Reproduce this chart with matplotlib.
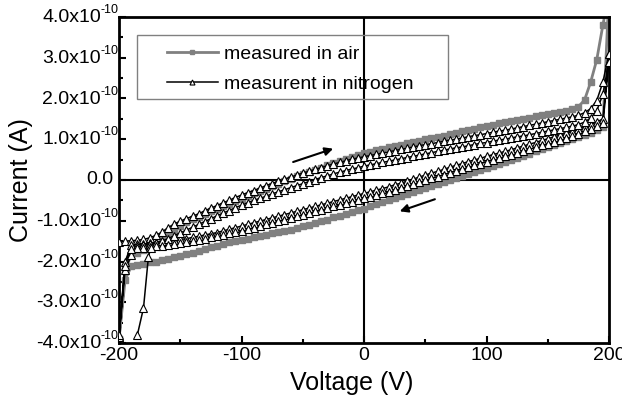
import numpy as np
import matplotlib
matplotlib.use('Agg')
import matplotlib.pyplot as plt
from matplotlib.ticker import MultipleLocator, NullFormatter
from matplotlib.patches import Rectangle

# sweep voltage grid (V), 5 V steps
volts = list(range(-200, 205, 5))

# currents in units of 1e-10 A, listed by ascending voltage
# measured in air: forward sweep (-200 -> 200)
air_fwd = [
    -3.90, -2.20, -1.85, -1.78, -1.72, -1.66, -1.58, -1.48, -1.36, -1.24,
    -1.13, -1.04, -0.96, -0.90, -0.83, -0.77, -0.71, -0.64, -0.58, -0.52,
    -0.46, -0.40, -0.33, -0.27, -0.21, -0.15, -0.09, -0.03, 0.03, 0.09,
    0.14, 0.20, 0.25, 0.30, 0.36, 0.41, 0.46, 0.51, 0.56, 0.61,
    0.66, 0.69, 0.73, 0.76, 0.80, 0.83, 0.86, 0.90, 0.93, 0.96,
    1.00, 1.03, 1.06, 1.09, 1.13, 1.16, 1.20, 1.23, 1.26, 1.30,
    1.33, 1.36, 1.39, 1.42, 1.45, 1.48, 1.50, 1.53, 1.56, 1.59,
    1.62, 1.64, 1.67, 1.70, 1.74, 1.80, 1.96, 2.40, 2.95, 3.80,
    4.60]
# measured in air: reverse sweep (200 -> -200)
air_rev = [
    -3.90, -2.45, -2.12, -2.08, -2.05, -2.02, -2.00, -1.97, -1.94, -1.90,
    -1.86, -1.82, -1.78, -1.74, -1.69, -1.65, -1.61, -1.57, -1.53, -1.50,
    -1.47, -1.44, -1.40, -1.37, -1.34, -1.31, -1.28, -1.25, -1.22, -1.18,
    -1.14, -1.10, -1.06, -1.01, -0.97, -0.92, -0.88, -0.83, -0.79, -0.74,
    -0.70, -0.65, -0.60, -0.55, -0.50, -0.45, -0.40, -0.35, -0.30, -0.25,
    -0.20, -0.15, -0.10, -0.05, 0.00, 0.05, 0.10, 0.15, 0.20, 0.25,
    0.30, 0.35, 0.40, 0.45, 0.50, 0.55, 0.60, 0.65, 0.70, 0.75,
    0.80, 0.85, 0.90, 0.95, 1.00, 1.05, 1.10, 1.16, 1.22, 1.30,
    4.60]

# nitrogen, first cycle
n2_fwd1 = [
    -1.52, -1.50, -1.49, -1.48, -1.46, -1.42, -1.36, -1.28, -1.17, -1.08,
    -1.01, -0.95, -0.89, -0.83, -0.76, -0.69, -0.63, -0.56, -0.50, -0.43,
    -0.37, -0.31, -0.26, -0.20, -0.14, -0.09, -0.03, 0.02, 0.07, 0.12,
    0.17, 0.21, 0.26, 0.30, 0.35, 0.39, 0.43, 0.47, 0.51, 0.54,
    0.57, 0.60, 0.63, 0.66, 0.69, 0.72, 0.75, 0.78, 0.81, 0.84,
    0.87, 0.89, 0.92, 0.95, 0.98, 1.00, 1.03, 1.06, 1.09, 1.11,
    1.14, 1.17, 1.20, 1.22, 1.25, 1.28, 1.31, 1.34, 1.37, 1.40,
    1.43, 1.46, 1.49, 1.52, 1.55, 1.59, 1.65, 1.75, 1.95, 2.40,
    3.10]
n2_rev1 = [
    -3.85, -2.00, -1.60, -1.57, -1.56, -1.55, -1.54, -1.52, -1.50, -1.48,
    -1.46, -1.44, -1.41, -1.38, -1.35, -1.32, -1.29, -1.25, -1.21, -1.17,
    -1.13, -1.09, -1.05, -1.01, -0.97, -0.93, -0.89, -0.85, -0.81, -0.77,
    -0.73, -0.69, -0.65, -0.61, -0.57, -0.53, -0.49, -0.45, -0.41, -0.37,
    -0.33, -0.29, -0.25, -0.21, -0.17, -0.12, -0.08, -0.03, 0.02, 0.07,
    0.12, 0.17, 0.21, 0.26, 0.31, 0.36, 0.40, 0.45, 0.49, 0.53,
    0.58, 0.62, 0.66, 0.70, 0.74, 0.79, 0.83, 0.88, 0.92, 0.97,
    1.01, 1.06, 1.10, 1.15, 1.19, 1.24, 1.30, 1.36, 1.42, 1.50,
    3.10]
# nitrogen, second cycle
n2_fwd2 = [
    -3.85, -2.20, -1.85, -1.61, -1.60, -1.58, -1.55, -1.50, -1.44, -1.37,
    -1.30, -1.23, -1.16, -1.09, -1.02, -0.95, -0.88, -0.81, -0.75, -0.68,
    -0.62, -0.56, -0.50, -0.45, -0.40, -0.34, -0.29, -0.24, -0.19, -0.14,
    -0.09, -0.04, 0.01, 0.06, 0.10, 0.15, 0.19, 0.23, 0.27, 0.30,
    0.34, 0.37, 0.40, 0.43, 0.46, 0.49, 0.52, 0.55, 0.58, 0.61,
    0.64, 0.67, 0.70, 0.73, 0.76, 0.79, 0.81, 0.84, 0.87, 0.90,
    0.92, 0.95, 0.98, 1.00, 1.03, 1.06, 1.08, 1.11, 1.14, 1.17,
    1.20, 1.23, 1.26, 1.29, 1.32, 1.36, 1.42, 1.52, 1.70, 2.10,
    2.90]
n2_rev2 = [
    -3.80, -2.10, -1.70, -1.68, -1.67, -1.65, -1.63, -1.61, -1.59, -1.57,
    -1.55, -1.53, -1.50, -1.47, -1.44, -1.41, -1.38, -1.35, -1.31, -1.28,
    -1.24, -1.21, -1.17, -1.13, -1.09, -1.05, -1.01, -0.97, -0.93, -0.89,
    -0.85, -0.81, -0.77, -0.73, -0.69, -0.65, -0.61, -0.57, -0.53, -0.49,
    -0.45, -0.41, -0.37, -0.33, -0.29, -0.25, -0.20, -0.15, -0.11, -0.06,
    -0.01, 0.04, 0.08, 0.13, 0.18, 0.22, 0.27, 0.31, 0.36, 0.40,
    0.45, 0.49, 0.53, 0.58, 0.62, 0.67, 0.71, 0.76, 0.80, 0.85,
    0.89, 0.94, 0.99, 1.04, 1.09, 1.14, 1.20, 1.26, 1.32, 1.40,
    2.90]
# first points of the nitrogen run
n2_start_v = [-185, -180, -176, -174]
n2_start_i = [-3.80, -3.14, -1.89, -1.66]

# y tick values (x 1e-10 A)
y_ticks = [-4.0, -3.0, -2.0, -1.0, 0.0, 1.0, 2.0, 3.0, 4.0]

plt.rcParams['font.family'] = ['Liberation Sans', 'DejaVu Sans']
plt.rcParams['axes.unicode_minus'] = False

scale = 1e-10
v = np.array(volts)

# whole loops: forward then back
air_x = np.concatenate([v, v[::-1]])
air_y = np.concatenate([air_fwd, air_rev[::-1]]) * scale
n2_x = np.concatenate([v, v[::-1], v, v[::-1]])
n2_y = np.concatenate([n2_fwd1, n2_rev1[::-1], n2_fwd2, n2_rev2[::-1]]) * scale

fig = plt.figure(figsize=(6.22, 3.99), dpi=100)
ax = fig.add_axes([119 / 622, 56 / 399, 490 / 622, 326 / 399])

gray = '#808080'
ax.plot(air_x, air_y, color=gray, lw=2, marker='s', ms=4.5, mfc=gray, mec=gray,
        label='measured in air', zorder=2)
ax.plot(n2_x, n2_y, color='black', lw=1.1, marker='^', ms=6, mfc='white', mec='black',
        mew=0.8, label='measurent in nitrogen', zorder=3)
ax.plot(n2_start_v, np.array(n2_start_i) * scale, color='black', lw=1.1, marker='^', ms=6,
        mfc='white', mec='black', mew=0.8, zorder=3)

ax.axhline(0, color='black', lw=1.5, zorder=1.5)
ax.axvline(0, color='black', lw=1.5, zorder=1.5)

# sweep direction arrows
ax.annotate('', xy=(-23, 0.79 * scale), xytext=(-60, 0.42 * scale),
            arrowprops=dict(arrowstyle='-|>', color='black', lw=1.5, mutation_scale=12))
ax.annotate('', xy=(27, -0.79 * scale), xytext=(60, -0.45 * scale),
            arrowprops=dict(arrowstyle='-|>', color='black', lw=1.5, mutation_scale=12))

ax.set_xlim(-200, 200)
ax.set_ylim(-4e-10, 4e-10)
ax.xaxis.set_major_locator(MultipleLocator(100))
ax.xaxis.set_minor_locator(MultipleLocator(50))
ax.yaxis.set_major_locator(MultipleLocator(1e-10))
ax.yaxis.set_minor_locator(MultipleLocator(0.5e-10))
ax.yaxis.set_major_formatter(NullFormatter())

# y labels written as "n.nx10" with a raised "-10"
for t in y_ticks:
    if t == 0:
        ax.annotate('0.0', xy=(0, 0), xycoords=('axes fraction', 'data'), xytext=(-4, 0),
                    textcoords='offset points', ha='right', va='center', fontsize=14)
        continue
    ax.annotate('%.1fx10' % t, xy=(0, t * scale), xycoords=('axes fraction', 'data'),
                xytext=(-13, -0.5), textcoords='offset points', ha='right', va='center',
                fontsize=14, annotation_clip=False)
    ax.annotate('-10', xy=(0, t * scale), xycoords=('axes fraction', 'data'),
                xytext=(-13, 5), textcoords='offset points', ha='left', va='center',
                fontsize=9, annotation_clip=False)

ax.tick_params(which='both', direction='in', top=False, right=False, width=1.5, labelsize=14)
ax.tick_params(which='major', length=5, pad=3)
ax.tick_params(which='minor', length=3)
for s in ax.spines.values():
    s.set_linewidth(2)

ax.set_xlabel('Voltage (V)', fontsize=18, va='top')
ax.xaxis.set_label_coords(0.4755, -0.086)
ax.set_ylabel('Current (A)', fontsize=18)
ax.yaxis.set_label_coords(-0.176, 0.5)

ax.legend(loc='upper left', bbox_to_anchor=(167 / 622, 1 - 45 / 399), bbox_transform=fig.transFigure,
          frameon=False, fontsize=14, borderpad=0, borderaxespad=0, handlelength=2.6,
          handletextpad=0.35, labelspacing=0.65, markerscale=0.6)
fig.add_artist(Rectangle((137 / 622, 1 - 99 / 399), 311 / 622, 64 / 399, transform=fig.transFigure,
                         fill=False, edgecolor=gray, lw=1))

fig.savefig('out.png', dpi=100)
